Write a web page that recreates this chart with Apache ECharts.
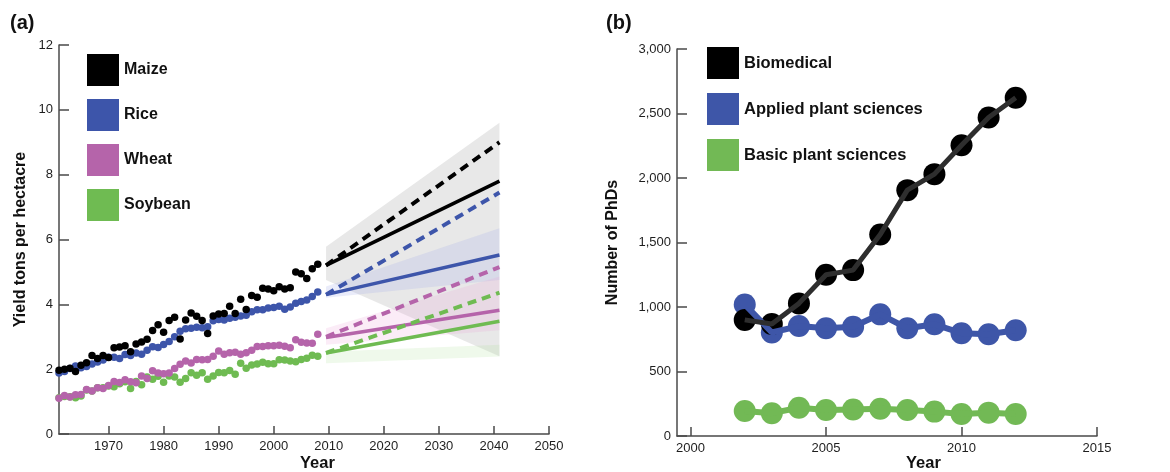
<!DOCTYPE html>
<html>
<head>
<meta charset="utf-8">
<script src="https://cdn.jsdelivr.net/npm/echarts@6/dist/echarts.min.js"></script>
<style>
html,body{margin:0;padding:0;background:#fff;}
#chart{width:1170px;height:472px;}
</style>
</head>
<body>
<div id="chart"></div>
<script>
// ---------- Panel (a): historical yields (t/ha) ----------
const yearsA = [1961,1962,1963,1964,1965,1966,1967,1968,1969,1970,
  1971,1972,1973,1974,1975,1976,1977,1978,1979,1980,
  1981,1982,1983,1984,1985,1986,1987,1988,1989,1990,
  1991,1992,1993,1994,1995,1996,1997,1998,1999,2000,
  2001,2002,2003,2004,2005,2006,2007,2008];
const maize = [1.97,2.00,2.03,1.93,2.12,2.20,2.42,2.33,2.42,2.36,
  2.66,2.68,2.72,2.54,2.78,2.84,2.92,3.19,3.37,3.14,
  3.50,3.60,2.93,3.52,3.73,3.63,3.50,3.10,3.64,3.70,
  3.72,3.94,3.72,4.16,3.84,4.27,4.22,4.50,4.47,4.42,
  4.54,4.47,4.51,5.00,4.94,4.80,5.10,5.24];
const rice = [1.88,1.93,2.02,2.10,2.04,2.08,2.16,2.22,2.28,2.37,
  2.37,2.33,2.45,2.42,2.50,2.46,2.58,2.69,2.67,2.76,
  2.85,3.00,3.17,3.25,3.26,3.29,3.28,3.31,3.49,3.53,
  3.52,3.57,3.60,3.64,3.66,3.77,3.83,3.83,3.89,3.90,
  3.94,3.85,3.92,4.03,4.09,4.13,4.24,4.38];
const wheat = [1.10,1.19,1.14,1.21,1.22,1.37,1.33,1.43,1.40,1.50,
  1.62,1.59,1.67,1.61,1.58,1.79,1.71,1.95,1.88,1.86,
  1.88,2.02,2.15,2.25,2.19,2.30,2.29,2.30,2.40,2.56,
  2.46,2.51,2.52,2.46,2.51,2.58,2.70,2.70,2.72,2.72,
  2.74,2.71,2.66,2.91,2.83,2.81,2.80,3.08];
const soybean = [1.12,1.16,1.15,1.12,1.17,1.36,1.33,1.43,1.43,1.48,
  1.46,1.55,1.61,1.40,1.62,1.52,1.76,1.69,1.78,1.60,
  1.79,1.76,1.60,1.71,1.89,1.81,1.89,1.69,1.79,1.90,
  1.89,1.96,1.84,2.18,2.03,2.13,2.16,2.21,2.17,2.17,
  2.29,2.28,2.25,2.23,2.30,2.34,2.43,2.40];

// ---------- Panel (a): projections ----------
const projYears = [2009.5, 2041];
const maizeSolid = [5.20, 7.80];
const maizeDash  = [5.20, 9.00];
const riceSolid  = [4.30, 5.52];
const riceDash   = [4.30, 7.45];
const wheatSolid = [2.98, 3.82];
const wheatDash  = [3.00, 5.15];
const soySolid   = [2.50, 3.48];
const soyDash    = [2.50, 4.36];
// uncertainty bands: lower and upper bounds at projYears
const maizeLow = [4.75, 2.40], maizeHigh = [5.78, 9.60];
const riceLow  = [4.20, 4.75], riceHigh  = [4.55, 6.35];
const wheatLow = [2.75, 3.20], wheatHigh = [3.26, 4.86];
const soyLow   = [2.18, 2.39], soyHigh   = [2.54, 2.75];
const xTicksA = [1970, 1980, 1990, 2000, 2010, 2020, 2030, 2040, 2050];

// ---------- Panel (b): PhDs ----------
const yearsB = [2002,2003,2004,2005,2006,2007,2008,2009,2010,2011,2012];
const biomedical = [900,868,1028,1250,1286,1562,1906,2030,2254,2469,2622];
const applied    = [1020,802,852,835,847,943,835,866,797,789,820];
const basic      = [194,177,219,201,206,211,201,189,170,181,170];
const xTicksB = [2000, 2005, 2010, 2015];

const C = {
  maize:'#000000', rice:'#3d55aa', wheat:'#b564aa', soy:'#6fbb52',
  bio:'#000000', app:'#3e56a8', basic:'#72b955'
};
const axisCol = '#4a4a4a';
const FONT = '"Liberation Sans", Arial, sans-serif';

function pairs(xs, ys){ return xs.map((x,i)=>[x, ys[i]]); }

function band(name, lo, hi, color){
  return {
    type:'custom', name:name, xAxisIndex:0, yAxisIndex:0, silent:true, z:1,
    data:[[projYears[0], lo[0], hi[0], projYears[1], lo[1], hi[1]]],
    encode:{x:[0,3], y:[1,2,4,5]},
    renderItem:function(params, api){
      const p0 = api.coord([api.value(0), api.value(1)]);
      const p1 = api.coord([api.value(3), api.value(4)]);
      const p2 = api.coord([api.value(3), api.value(5)]);
      const p3 = api.coord([api.value(0), api.value(2)]);
      return {type:'polygon', shape:{points:[p0,p1,p2,p3]}, style:{fill:color}};
    }
  };
}
function projLine(name, ys, color, dashed){
  return {type:'line', name:name, xAxisIndex:0, yAxisIndex:0, data:pairs(projYears, ys),
    symbol:'none', z:3, silent:true,
    lineStyle:{color:color, width:dashed ? 4 : 3.5, type: dashed ? [9,6] : 'solid', cap:'butt'}};
}
function dots(name, ys, color){
  return {type:'scatter', name:name, xAxisIndex:0, yAxisIndex:0, data:pairs(yearsA, ys),
    symbolSize:7.5, itemStyle:{color:color, opacity:1}, z:4};
}

const chart = echarts.init(document.getElementById('chart'), null, {renderer:'canvas'});

const axisCommon = {
  axisLine:{show:true, onZero:false, lineStyle:{color:axisCol, width:1.5}},
  axisTick:{show:true, inside:true, lineStyle:{color:axisCol, width:1.5}},
  splitLine:{show:false},
  axisLabel:{color:'#1e1e1e', fontSize:13, fontFamily:FONT}
};
const plain = v => String(v);

const option = {
  animation:false,
  backgroundColor:'#ffffff',
  grid:[
    {left:59, top:45, width:490, height:389},
    {left:677, top:49, width:420, height:387}
  ],
  xAxis:[
    Object.assign({}, axisCommon, {gridIndex:0, type:'value', min:1961, max:2050,
      axisTick:Object.assign({}, axisCommon.axisTick, {length:8, customValues:xTicksA}),
      axisLabel:Object.assign({}, axisCommon.axisLabel, {margin:6, customValues:xTicksA, formatter:plain})}),
    Object.assign({}, axisCommon, {gridIndex:1, type:'value', min:1999.5, max:2015,
      axisTick:Object.assign({}, axisCommon.axisTick, {length:9, customValues:xTicksB}),
      axisLabel:Object.assign({}, axisCommon.axisLabel, {margin:6, customValues:xTicksB, formatter:plain})})
  ],
  yAxis:[
    Object.assign({}, axisCommon, {gridIndex:0, type:'value', min:0, max:12, interval:2,
      name:'Yield tons per hectacre', nameLocation:'middle', nameGap:30,
      nameTextStyle:{fontSize:16, fontWeight:'bold', color:'#111', fontFamily:FONT},
      axisTick:Object.assign({}, axisCommon.axisTick, {length:10}),
      axisLabel:Object.assign({}, axisCommon.axisLabel, {margin:6, formatter:plain})}),
    Object.assign({}, axisCommon, {gridIndex:1, type:'value', min:0, max:3000, interval:500,
      name:'Number of PhDs', nameLocation:'middle', nameGap:56,
      nameTextStyle:{fontSize:16, fontWeight:'bold', color:'#111', fontFamily:FONT},
      axisTick:Object.assign({}, axisCommon.axisTick, {length:10}),
      axisLabel:Object.assign({}, axisCommon.axisLabel, {margin:6,
        formatter:v=>v.toLocaleString('en-US')})})
  ],
  legend:[
    {left:87, top:54, orient:'vertical', itemWidth:32, itemHeight:32, itemGap:13, padding:0,
     icon:'rect', selectedMode:false,
     data:['Maize','Rice','Wheat','Soybean'],
     textStyle:{fontSize:16, fontWeight:'bold', color:'#111', fontFamily:FONT, padding:[0,0,0,0]}},
    {left:707, top:47, orient:'vertical', itemWidth:32, itemHeight:32, itemGap:14, padding:0,
     icon:'rect', selectedMode:false,
     data:['Biomedical','Applied plant sciences','Basic plant sciences'],
     textStyle:{fontSize:16.5, fontWeight:'bold', color:'#111', fontFamily:FONT, padding:[0,0,0,0]}}
  ],
  graphic:[
    {type:'text', left:10, top:13, style:{text:'(a)', fontSize:20, fontWeight:'bold', fill:'#111', fontFamily:FONT}},
    {type:'text', left:606, top:13, style:{text:'(b)', fontSize:20, fontWeight:'bold', fill:'#111', fontFamily:FONT}},
    {type:'text', left:300, top:455, style:{text:'Year', fontSize:16.5, fontWeight:'bold', fill:'#111', fontFamily:FONT}},
    {type:'text', left:906, top:455, style:{text:'Year', fontSize:16.5, fontWeight:'bold', fill:'#111', fontFamily:FONT}}
  ],
  series:[
    band('maizeBand', maizeLow, maizeHigh, 'rgba(205,205,205,0.45)'),
    band('riceBand', riceLow, riceHigh, 'rgba(160,170,230,0.22)'),
    band('wheatBand', wheatLow, wheatHigh, 'rgba(235,160,215,0.2)'),
    band('soyBand', soyLow, soyHigh, 'rgba(175,225,155,0.2)'),
    projLine('maizeSolid', maizeSolid, C.maize, false),
    projLine('maizeDash', maizeDash, C.maize, true),
    projLine('riceSolid', riceSolid, C.rice, false),
    projLine('riceDash', riceDash, C.rice, true),
    projLine('wheatSolid', wheatSolid, C.wheat, false),
    projLine('wheatDash', wheatDash, C.wheat, true),
    projLine('soySolid', soySolid, C.soy, false),
    projLine('soyDash', soyDash, C.soy, true),
    dots('Soybean', soybean, C.soy),
    dots('Wheat', wheat, C.wheat),
    dots('Rice', rice, C.rice),
    dots('Maize', maize, C.maize),
    // panel (b)
    {type:'scatter', name:'Basic plant sciences', xAxisIndex:1, yAxisIndex:1,
     data:pairs(yearsB, basic), symbolSize:22, itemStyle:{color:C.basic, opacity:1}},
    {type:'line', name:'basicLine', xAxisIndex:1, yAxisIndex:1, data:pairs(yearsB, basic),
     symbol:'none', lineStyle:{color:C.basic, width:6}},
    {type:'scatter', name:'Applied plant sciences', xAxisIndex:1, yAxisIndex:1,
     data:pairs(yearsB, applied), symbolSize:22, itemStyle:{color:C.app, opacity:1}},
    {type:'line', name:'appLine', xAxisIndex:1, yAxisIndex:1, data:pairs(yearsB, applied),
     symbol:'none', lineStyle:{color:C.app, width:6}},
    {type:'scatter', name:'Biomedical', xAxisIndex:1, yAxisIndex:1,
     data:pairs(yearsB, biomedical), symbolSize:22, itemStyle:{color:C.bio, opacity:1}},
    {type:'line', name:'bioLine', xAxisIndex:1, yAxisIndex:1, data:pairs(yearsB, biomedical),
     symbol:'none', lineStyle:{color:'#2e2e2e', width:5}}
  ]
};
chart.setOption(option);
</script>
</body>
</html>
